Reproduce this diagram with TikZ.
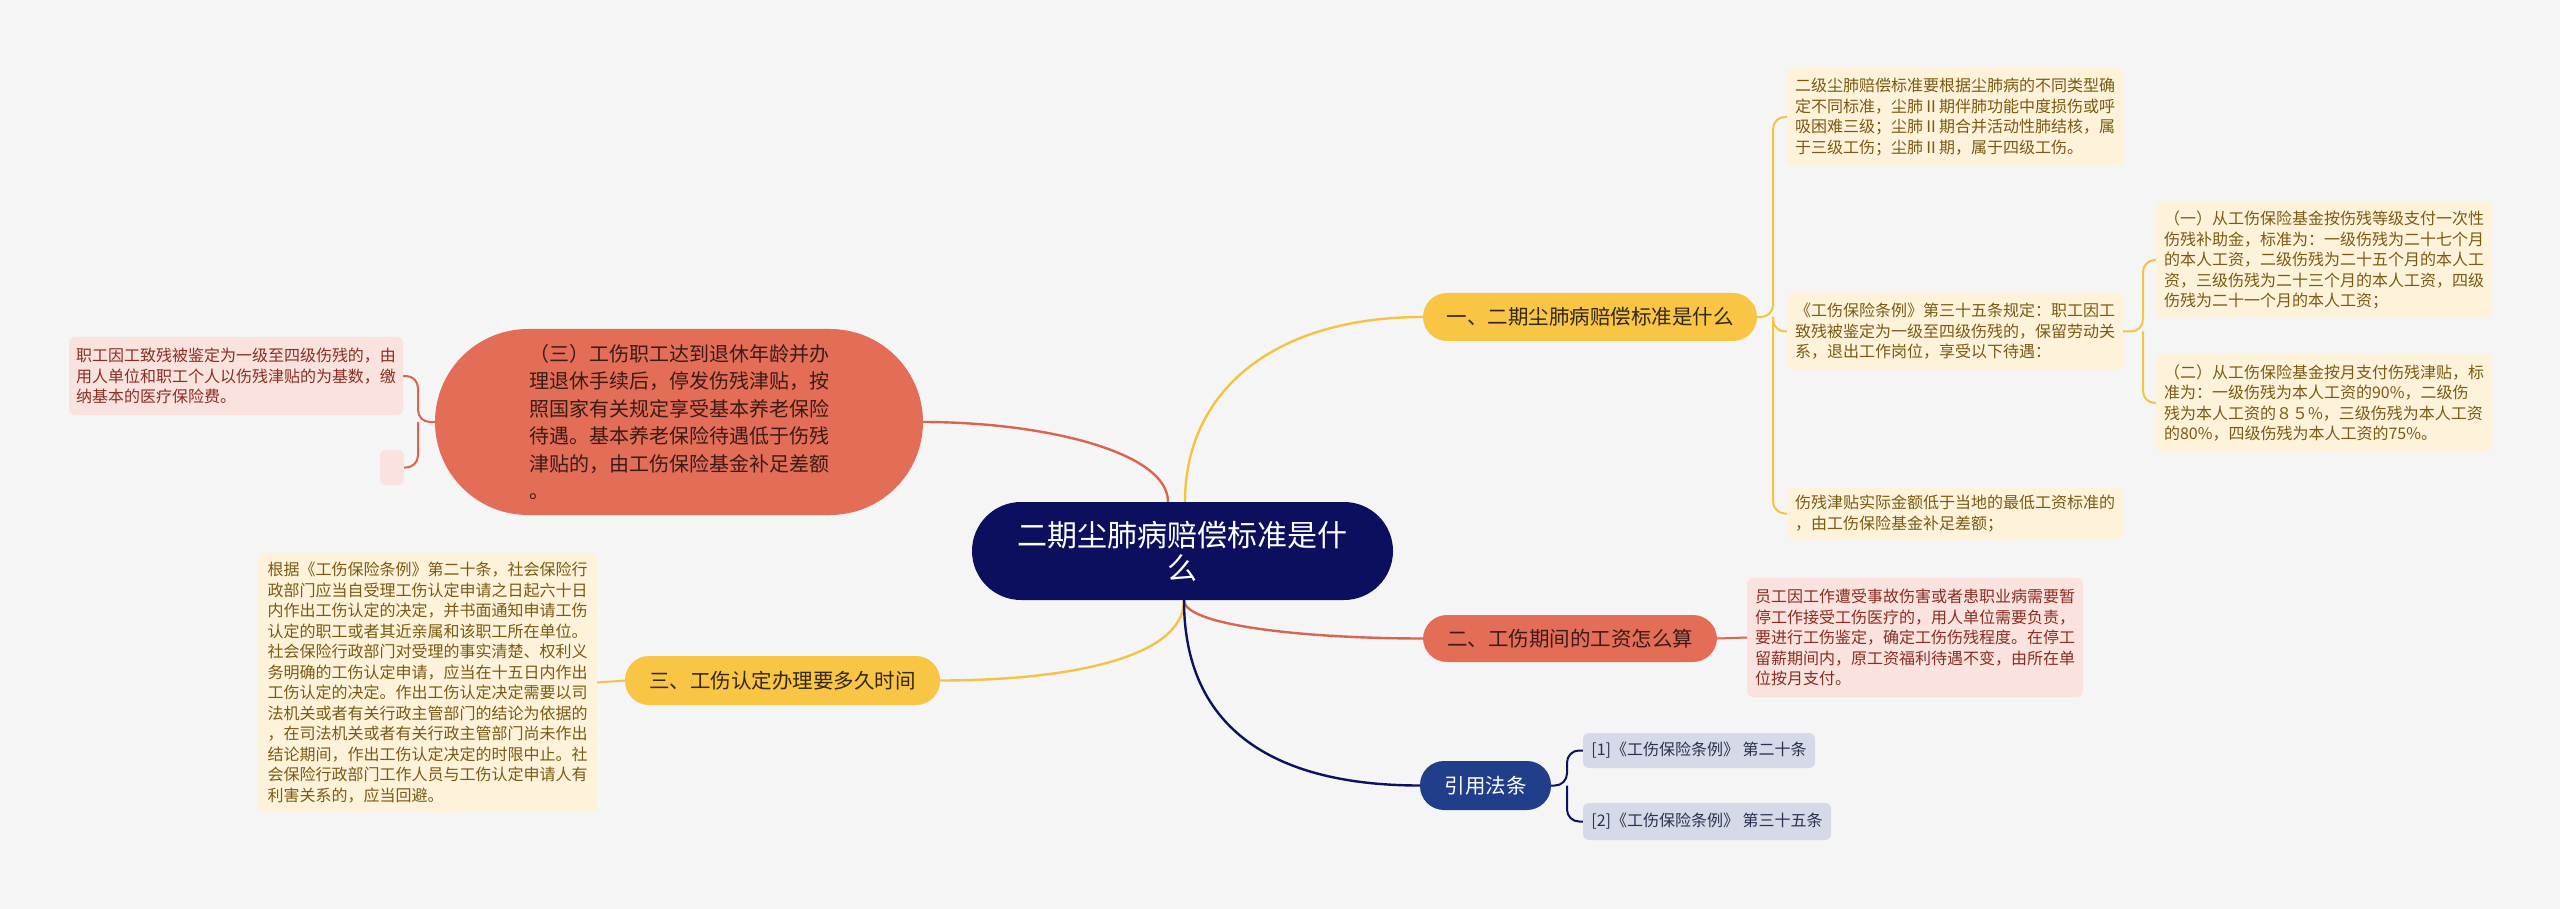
\documentclass[tikz,border=0pt]{standalone}
\usepackage{fontspec}
\setmainfont{Noto Sans CJK SC}
\definecolor{bg}{HTML}{F5F5F5}
\definecolor{navy}{HTML}{0C0F5E}
\definecolor{yel}{HTML}{F8C545}
\definecolor{redb}{HTML}{E46D57}
\definecolor{blueb}{HTML}{203E8A}
\definecolor{leafYfill}{HTML}{FEF3DA}
\definecolor{leafYtxt}{HTML}{7A5A12}
\definecolor{leafPfill}{HTML}{FAE3DF}
\definecolor{leafPtxt}{HTML}{8A2D22}
\definecolor{leafBfill}{HTML}{D6DAE8}
\definecolor{leafBtxt}{HTML}{2A3050}
\definecolor{conY}{HTML}{F5C344}
\definecolor{conR}{HTML}{D9654F}
\definecolor{conN}{HTML}{0C1260}
\definecolor{darktxt}{HTML}{33281A}
\definecolor{darkred}{HTML}{3A1C16}
\begin{document}
\begin{tikzpicture}[x=1pt,y=-1pt,
  rootnode/.style={fill=navy,text=white,align=center,inner sep=0pt,rounded corners=49pt,font=\fontsize{30}{33}\selectfont},
  branchY/.style={fill=yel,text=darktxt,inner sep=0pt,rounded corners=24pt,font=\fontsize{20.5}{24}\selectfont},
  branchR/.style={fill=redb,text=darkred,inner sep=0pt,rounded corners=24pt,font=\fontsize{20.5}{24}\selectfont},
  branchB/.style={fill=blueb,text=white,inner sep=0pt,rounded corners=24pt,font=\fontsize{20.5}{24}\selectfont},
  leafY/.style={fill=leafYfill,text=leafYtxt,inner sep=0pt,rounded corners=6pt,align=left,font=\fontsize{16}{20.5}\selectfont},
  leafP/.style={fill=leafPfill,text=leafPtxt,inner sep=0pt,rounded corners=6pt,align=left,font=\fontsize{16}{20.5}\selectfont},
  leafB/.style={fill=leafBfill,text=leafBtxt,inner sep=0pt,rounded corners=6pt,align=left,font=\fontsize{16}{20}\selectfont},
  lineY/.style={draw=conY,line width=2.4pt},
  lineR/.style={draw=conR,line width=2.4pt},
  lineN/.style={draw=conN,line width=2.4pt},
  brY/.style={draw=conY,line width=2pt,rounded corners=12pt},
  brR/.style={draw=conR,line width=2pt,rounded corners=12pt},
  brN/.style={draw=conN,line width=2pt,rounded corners=12pt}]
\useasboundingbox (0,0) rectangle (2560,909);
\fill[bg] (0,0) rectangle (2560,909);

% root
\node[rootnode,minimum width=421pt,minimum height=98pt] (root) at (1182.5,551) {二期尘肺病赔偿标准是什\\么};

% branches
\node[branchY,minimum width=334pt,minimum height=48pt] (b1) at (1590,317) {一、二期尘肺病赔偿标准是什么};
\node[branchR,minimum width=294pt,minimum height=47pt] (b2) at (1570,638.5) {二、工伤期间的工资怎么算};
\node[branchY,minimum width=315pt,minimum height=49pt] (b3) at (782.5,680.5) {三、工伤认定办理要多久时间};
\node[branchB,minimum width=131pt,minimum height=49pt] (b4) at (1485.5,785.5) {引用法条};
\node[fill=redb,text=darkred,inner sep=0pt,rounded corners=93pt,align=left,
      font=\fontsize{20}{27.5}\selectfont,minimum width=488pt,minimum height=186pt] (b5) at (679,422)
 {（三）工伤职工达到退休年龄并办\\理退休手续后，停发伤残津贴，按\\照国家有关规定享受基本养老保险\\待遇。基本养老保险待遇低于伤残\\津贴的，由工伤保险基金补足差额\\。};

% leaves of b1
\node[leafY,minimum width=336pt,minimum height=98pt] (cA) at (1955,117)
 {二级尘肺赔偿标准要根据尘肺病的不同类型确\\定不同标准，尘肺Ⅱ期伴肺功能中度损伤或呼\\吸困难三级；尘肺Ⅱ期合并活动性肺结核，属\\于三级工伤；尘肺Ⅱ期，属于四级工伤。};
\node[leafY,minimum width=336pt,minimum height=77pt] (cB) at (1955,331.5)
 {《工伤保险条例》第三十五条规定：职工因工\\致残被鉴定为一级至四级伤残的，保留劳动关\\系，退出工作岗位，享受以下待遇：};
\node[leafY,minimum width=336pt,minimum height=51pt] (cC) at (1955,513.5)
 {伤残津贴实际金额低于当地的最低工资标准的\\，由工伤保险基金补足差额；};
\node[leafY,minimum width=336pt,minimum height=116pt] (cB1) at (2324,260)
 {（一）从工伤保险基金按伤残等级支付一次性\\伤残补助金，标准为：一级伤残为二十七个月\\的本人工资，二级伤残为二十五个月的本人工\\资，三级伤残为二十三个月的本人工资，四级\\伤残为二十一个月的本人工资；};
\node[leafY,minimum width=336pt,minimum height=98pt] (cB2) at (2324,403)
 {（二）从工伤保险基金按月支付伤残津贴，标\\准为：一级伤残为本人工资的90\%，二级伤\\残为本人工资的８５\%，三级伤残为本人工资\\的80\%，四级伤残为本人工资的75\%。};

% leaf of b2
\node[leafP,minimum width=336pt,minimum height=119pt] (d1) at (1915,637.5)
 {员工因工作遭受事故伤害或者患职业病需要暂\\停工作接受工伤医疗的，用人单位需要负责，\\要进行工伤鉴定，确定工伤伤残程度。在停工\\留薪期间内，原工资福利待遇不变，由所在单\\位按月支付。};

% leaf of b3
\node[leafY,minimum width=339pt,minimum height=259pt] (e1) at (427.5,682.5)
 {根据《工伤保险条例》第二十条，社会保险行\\政部门应当自受理工伤认定申请之日起六十日\\内作出工伤认定的决定，并书面通知申请工伤\\认定的职工或者其近亲属和该职工所在单位。\\社会保险行政部门对受理的事实清楚、权利义\\务明确的工伤认定申请，应当在十五日内作出\\工伤认定的决定。作出工伤认定决定需要以司\\法机关或者有关行政主管部门的结论为依据的\\，在司法机关或者有关行政主管部门尚未作出\\结论期间，作出工伤认定决定的时限中止。社\\会保险行政部门工作人员与工伤认定申请人有\\利害关系的，应当回避。};

% leaves of b4
\node[leafB,minimum width=232pt,minimum height=35pt] (r1) at (1699,750.5) {[1]《工伤保险条例》 第二十条};
\node[leafB,minimum width=248pt,minimum height=37pt] (r2) at (1707,821.5) {[2]《工伤保险条例》 第三十五条};

% leaves of b5
\node[leafP,minimum width=334pt,minimum height=78pt] (f1) at (236,376)
 {职工因工致残被鉴定为一级至四级伤残的，由\\用人单位和职工个人以伤残津贴的为基数，缴\\纳基本的医疗保险费。};
\node[leafP,minimum width=24pt,minimum height=35pt] (f2) at (392,467.5) {};

% root connectors
\draw[lineY] ([xshift=2.5pt]root.north) .. controls +(0,-110) and +(-150,0) .. (b1.west);
\draw[lineR] ([xshift=-14.5pt]root.north) .. controls +(0,-50) and +(120,0) .. (b5.east);
\draw[lineY] ([xshift=1.5pt]root.south) .. controls +(0,60) and +(120,0) .. (b3.east);
\draw[lineR] ([xshift=1.5pt]root.south) .. controls +(0,25) and +(-120,0) .. (b2.west);
\draw[lineN] ([xshift=1.5pt]root.south) .. controls +(0,140) and +(-130,0) .. (b4.west);

% brackets
\coordinate (j1) at (1773,317);
\draw[brY] (b1.east) -- (j1) |- (cA.west);
\draw[brY] (j1) |- (cB.west);
\draw[brY] (j1) |- (cC.west);

\coordinate (jB) at (2143,331.5);
\draw[brY] (cB.east) -- (jB) |- (cB1.west);
\draw[brY] (jB) |- (cB2.west);

\draw[lineR,line width=2pt] (b2.east) -- (d1.west);
\draw[lineY,line width=2pt] (b3.west) -- (e1.east);

\coordinate (j4) at (1567,785.5);
\draw[brN] (b4.east) -- (j4) |- (r1.west);
\draw[brN] (j4) |- (r2.west);

\coordinate (j5) at (418,422);
\draw[brR] (b5.west) -- (j5) |- (f1.east);
\draw[brR] (j5) |- (f2.east);
\end{tikzpicture}
\end{document}
